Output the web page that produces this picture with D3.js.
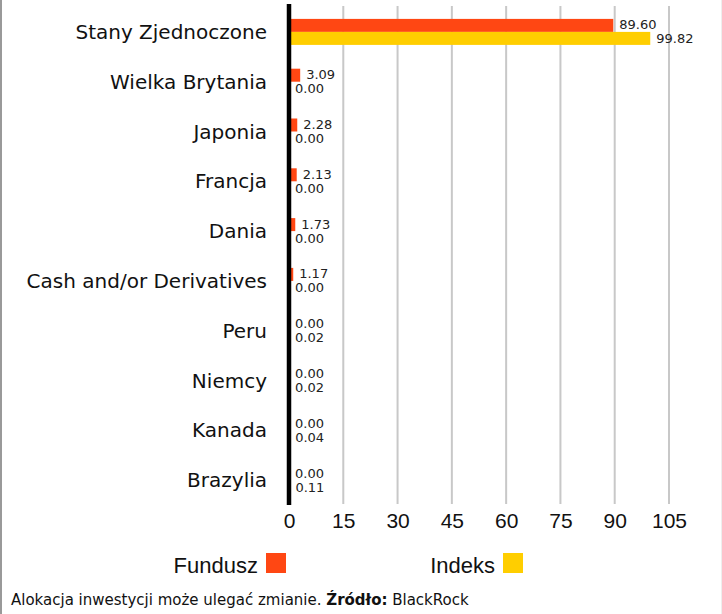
<!DOCTYPE html>
<html>
<head>
<meta charset="utf-8">
<script src="https://cdn.jsdelivr.net/npm/d3@7"></script>
<style>
  body { margin: 0; background: #fff; }
  svg { display: block; }
</style>
</head>
<body>
<div id="chart"></div>
<script>
// data
var countries = ["Stany Zjednoczone", "Wielka Brytania", "Japonia", "Francja", "Dania",
                 "Cash and/or Derivatives", "Peru", "Niemcy", "Kanada", "Brazylia"];
var fundValues  = [89.60, 3.09, 2.28, 2.13, 1.73, 1.17, 0.00, 0.00, 0.00, 0.00];
var indexValues = [99.82, 0.00, 0.00, 0.00, 0.00, 0.00, 0.02, 0.02, 0.04, 0.11];
var xTicks = [0, 15, 30, 45, 60, 75, 90, 105];
var seriesNames = ["Fundusz", "Indeks"];

var W = 722, H = 614;
var colors = {fund: "#FF4713", index: "#FFCE00"};

var svg = d3.select("#chart")
  .append("svg")
    .attr("width", W)
    .attr("height", H);

// frame lines
svg.append("line")
  .attr("x1", 1).attr("x2", 1).attr("y1", 0).attr("y2", H)
  .attr("stroke", "#999").attr("stroke-width", 2);
svg.append("line")
  .attr("x1", 721.5).attr("x2", 721.5).attr("y1", 0).attr("y2", H)
  .attr("stroke", "#eee").attr("stroke-width", 1);

// scales
var x = d3.scaleLinear()
  .domain([0, 105])
  .range([289, 669]);

var y = d3.scaleBand()
  .domain(countries)
  .range([7, 505]);

var barH = 13;

// grid lines
svg.append("g")
  .selectAll("line")
  .data(xTicks.slice(1))
  .enter()
  .append("line")
    .attr("x1", function(d) { return x(d); })
    .attr("x2", function(d) { return x(d); })
    .attr("y1", 6)
    .attr("y2", 504)
    .attr("stroke", "#c8c8c8")
    .attr("stroke-width", 2);

// bars
var rows = svg.append("g")
  .selectAll("g")
  .data(countries)
  .enter()
  .append("g")
    .attr("transform", function(d) { return "translate(0," + (y(d) + y.bandwidth() / 2) + ")"; });

rows.append("rect")
  .attr("x", x(0))
  .attr("y", -barH)
  .attr("width", function(d, i) { return x(fundValues[i]) - x(0); })
  .attr("height", barH)
  .attr("fill", colors.fund);

rows.append("rect")
  .attr("x", x(0))
  .attr("y", 0)
  .attr("width", function(d, i) { return x(indexValues[i]) - x(0); })
  .attr("height", barH)
  .attr("fill", colors.index);

// value labels
rows.append("text")
  .attr("x", function(d, i) { return x(fundValues[i]) + 6; })
  .attr("y", -barH / 2 - 0.5)
  .attr("dy", "0.35em")
  .style("font-family", "DejaVu Sans")
  .style("font-size", "13px")
  .style("fill", "#222")
  .text(function(d, i) { return fundValues[i].toFixed(2); });

rows.append("text")
  .attr("x", function(d, i) { return x(indexValues[i]) + 6; })
  .attr("y", barH / 2 + 0.5)
  .attr("dy", "0.35em")
  .style("font-family", "DejaVu Sans")
  .style("font-size", "13px")
  .style("fill", "#222")
  .text(function(d, i) { return indexValues[i].toFixed(2); });

// category labels
rows.append("text")
  .attr("x", 267)
  .attr("y", 0)
  .attr("dy", "0.35em")
  .attr("text-anchor", "end")
  .style("font-family", "DejaVu Sans")
  .style("font-size", "20px")
  .style("fill", "#111")
  .text(function(d) { return d; });

// zero axis line
svg.append("line")
  .attr("x1", x(0)).attr("x2", x(0))
  .attr("y1", 4).attr("y2", 505)
  .attr("stroke", "#000")
  .attr("stroke-width", 4.5);

// x axis tick labels
var xAxis = svg.append("g")
  .attr("transform", "translate(0,505)")
  .call(d3.axisBottom(x).tickValues(xTicks).tickSize(0).tickPadding(8));
xAxis.select(".domain").remove();
xAxis.selectAll("text")
  .style("font-family", "Liberation Sans")
  .style("font-size", "21px")
  .style("fill", "#111");

// legend
var legend = svg.append("g");
var legendItems = [
  {name: seriesNames[0], color: colors.fund, right: 258},
  {name: seriesNames[1], color: colors.index, right: 495}
];
legendItems.forEach(function(it) {
  legend.append("text")
    .attr("x", it.right)
    .attr("y", 573)
    .attr("text-anchor", "end")
    .style("font-family", "Liberation Sans")
    .style("font-size", "22px")
    .style("fill", "#111")
    .text(it.name);
  legend.append("rect")
    .attr("x", it.right + 8)
    .attr("y", 553)
    .attr("width", 20)
    .attr("height", 20)
    .attr("fill", it.color);
});

// footer
var foot = svg.append("text")
  .attr("x", 11)
  .attr("y", 605)
  .style("font-family", "DejaVu Sans")
  .style("font-size", "15px")
  .style("fill", "#111");
foot.append("tspan").text("Alokacja inwestycji może ulegać zmianie. ");
foot.append("tspan").style("font-weight", "bold").text("Źródło:");
foot.append("tspan").text(" BlackRock");
</script>
</body>
</html>
